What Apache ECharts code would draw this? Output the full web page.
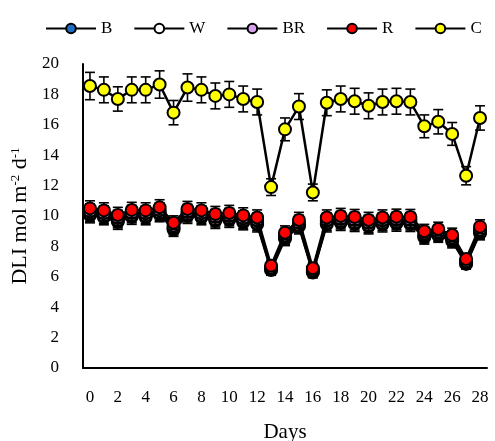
<!DOCTYPE html>
<html>
<head>
<meta charset="utf-8">
<script src="https://cdn.jsdelivr.net/npm/echarts@6/dist/echarts.min.js"></script>
<style>
  html, body { margin: 0; padding: 0; background: #fff; }
  #chart { width: 495px; height: 441px; }
</style>
</head>
<body>
<div id="chart"></div>
<script>
(function () {
  "use strict";

  // days 0..28, tick label every second day
  const days = ["0","1","2","3","4","5","6","7","8","9","10","11","12","13","14",
                "15","16","17","18","19","20","21","22","23","24","25","26","27","28"];

  // DLI (mol m-2 d-1)
  const valC  = [18.55, 18.3, 17.7, 18.3, 18.3, 18.65, 16.8, 18.45, 18.3, 17.9, 18.0, 17.7, 17.5, 11.9,
                 15.7, 17.2, 11.55, 17.45, 17.7, 17.55, 17.25, 17.5, 17.55, 17.5, 15.9, 16.2, 15.4, 12.65, 16.45];
  const valR  = [10.5, 10.37, 10.07, 10.4, 10.37, 10.57, 9.56, 10.46, 10.37, 10.13, 10.2, 10.04, 9.9, 6.73,
                 8.9, 9.74, 6.56, 9.9, 10.0, 9.93, 9.74, 9.9, 9.95, 9.93, 9.0, 9.14, 8.75, 7.17, 9.3];
  const valBR = [10.3, 10.17, 9.87, 10.2, 10.17, 10.37, 9.36, 10.26, 10.17, 9.93, 10.0, 9.84, 9.7, 6.6,
                 8.72, 9.55, 6.43, 9.7, 9.8, 9.73, 9.55, 9.7, 9.75, 9.73, 8.82, 8.95, 8.57, 7.02, 9.1];
  const valW  = [10.15, 10.02, 9.72, 10.05, 10.02, 10.22, 9.21, 10.11, 10.02, 9.78, 9.85, 9.69, 9.55, 6.5,
                 8.58, 9.4, 6.33, 9.55, 9.65, 9.58, 9.4, 9.55, 9.6, 9.58, 8.68, 8.8, 8.43, 6.9, 8.96];
  const valB  = [10.05, 9.92, 9.62, 9.95, 9.92, 10.12, 9.11, 10.01, 9.92, 9.68, 9.75, 9.59, 9.45, 6.45,
                 8.5, 9.32, 6.28, 9.45, 9.55, 9.48, 9.32, 9.45, 9.5, 9.48, 8.6, 8.72, 8.35, 6.85, 8.88];

  // standard error bars (+/-)
  const errC  = [0.9, 0.85, 0.8, 0.85, 0.85, 0.9, 0.8, 0.9, 0.85, 0.85, 0.85, 0.85, 0.85, 0.55,
                 0.75, 0.85, 0.55, 0.85, 0.85, 0.85, 0.85, 0.85, 0.85, 0.85, 0.75, 0.8, 0.75, 0.6, 0.8];
  const errLo = [0.5, 0.5, 0.5, 0.5, 0.5, 0.5, 0.45, 0.5, 0.5, 0.5, 0.5, 0.5, 0.5, 0.35,
                 0.45, 0.5, 0.35, 0.5, 0.5, 0.5, 0.5, 0.5, 0.5, 0.5, 0.45, 0.45, 0.45, 0.35, 0.45];

  const SERIES = [
    { name: "B",  values: valB,  err: errLo, color: "#1F6FC5" },
    { name: "W",  values: valW,  err: errLo, color: "#FFFFFF" },
    { name: "BR", values: valBR, err: errLo, color: "#D9A0EE" },
    { name: "R",  values: valR,  err: errLo, color: "#FF0000" },
    { name: "C",  values: valC,  err: errC,  color: "#FFFF00" },
  ];

  const FONT = "Liberation Serif";
  const chart = echarts.init(document.getElementById("chart"), null, { renderer: "canvas" });

  function errBars(s, z) {
    return {
      type: "custom", name: s.name + " err", z: z, silent: true,
      data: s.values.map((v, i) => [i, v, s.err[i]]),
      renderItem: (params, api) => {
        const i = api.value(0), v = api.value(1), e = api.value(2);
        const top = api.coord([i, v + e]), bot = api.coord([i, v - e]);
        const hw = 5;
        const st = { stroke: "#000", lineWidth: 1.6 };
        return { type: "group", children: [
          { type: "line", shape: { x1: top[0], y1: top[1], x2: bot[0], y2: bot[1] }, style: st },
          { type: "line", shape: { x1: top[0] - hw, y1: top[1], x2: top[0] + hw, y2: top[1] }, style: st },
          { type: "line", shape: { x1: bot[0] - hw, y1: bot[1], x2: bot[0] + hw, y2: bot[1] }, style: st },
        ] };
      },
    };
  }

  const series = [];
  SERIES.forEach((s, k) => {
    series.push(errBars(s, 2 + k * 2));
    series.push({
      type: "line", name: s.name, z: 3 + k * 2,
      data: s.values,
      symbol: "circle", symbolSize: 12, showSymbol: true, showAllSymbol: true,
      lineStyle: { color: "#000", width: 2.5 },
      itemStyle: { color: s.color, borderColor: "#000", borderWidth: 2 },
      emphasis: { disabled: true },
    });
  });

  chart.setOption({
    animation: false,
    textStyle: { fontFamily: FONT, color: "#000" },
    legend: {
      data: SERIES.map((s) => s.name),
      top: 15, left: 40,
      itemWidth: 50, itemHeight: 12, itemGap: 21,
      textStyle: { fontFamily: FONT, fontSize: 17, color: "#000" },
    },
    grid: { left: 83, right: 8, top: 64, bottom: 73, outerBoundsMode: "none", containLabel: false },
    xAxis: {
      type: "category", data: days, boundaryGap: true,
      name: "Days", nameLocation: "middle", nameGap: 54,
      nameTextStyle: { fontFamily: FONT, fontSize: 21, color: "#000" },
      axisLine: { lineStyle: { color: "#000", width: 2 } },
      axisTick: { show: false },
      axisLabel: { interval: 1, margin: 21, fontFamily: FONT, fontSize: 17, color: "#000" },
      splitLine: { show: false },
    },
    yAxis: {
      type: "value", min: 0, max: 20, interval: 2,
      name: "DLI mol m{sup|-2} d{sup|-1}", nameLocation: "middle", nameGap: 52,
      nameTextStyle: {
        fontFamily: FONT, fontSize: 22, color: "#000",
        rich: { sup: { fontFamily: FONT, fontSize: 13, color: "#000", verticalAlign: "top", padding: [0, 0, 8, 0] } },
      },
      axisLine: { show: true, lineStyle: { color: "#000", width: 2 } },
      axisTick: { show: false },
      axisLabel: { margin: 24, fontFamily: FONT, fontSize: 17, color: "#000" },
      splitLine: { show: false },
    },
    series: series,
  });
})();
</script>
</body>
</html>
